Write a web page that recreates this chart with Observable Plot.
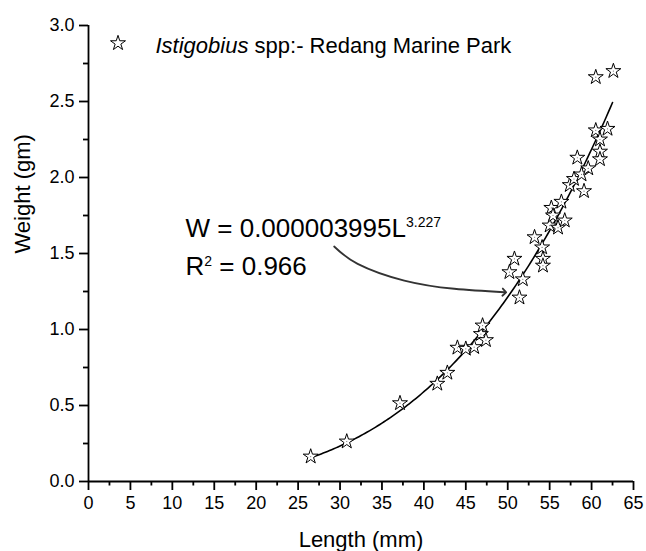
<!DOCTYPE html>
<html>
<head>
<meta charset="utf-8">
<script src="https://cdn.jsdelivr.net/npm/d3@7"></script>
<script src="https://cdn.jsdelivr.net/npm/@observablehq/plot@0.6"></script>
<style>
  html, body { margin: 0; padding: 0; background: white; }
</style>
</head>
<body>
<div id="chart"></div>
<script>
// Observed fish: length (mm) and weight (gm)
const lengths = [26.5, 30.8, 37.15, 41.6, 42.8, 44.0, 45.0, 46.0, 46.8, 47.0, 47.4,
  50.2, 50.8, 51.4, 51.8, 53.2, 54.1, 54.2, 54.2, 55.0, 55.2, 55.4, 56.0, 56.4, 56.8,
  57.4, 57.9, 58.3, 58.8, 59.1, 59.6, 60.5, 61.0, 61.0, 61.0, 61.9, 60.5, 62.6];
const weights = [0.164, 0.263, 0.515, 0.643, 0.715, 0.88, 0.873, 0.884, 0.97, 1.026, 0.93,
  1.377, 1.465, 1.21, 1.33, 1.607, 1.54, 1.465, 1.42, 1.684, 1.80, 1.75, 1.67, 1.84, 1.717,
  1.95, 1.99, 2.13, 2.02, 1.91, 2.06, 2.31, 2.25, 2.17, 2.12, 2.32, 2.66, 2.70];

// Fitted length-weight relation shown on the chart: W = a * L^b
const fitA = 0.000003995;
const fitB = 3.227;
const fitRange = [26.5, 62.5];

// Tick labels
const xTicks = [0, 5, 10, 15, 20, 25, 30, 35, 40, 45, 50, 55, 60, 65];
const xMinor = [2.5, 7.5, 12.5, 17.5, 22.5, 27.5, 32.5, 37.5, 42.5, 47.5, 52.5, 57.5, 62.5];
const yTicks = [0, 0.5, 1.0, 1.5, 2.0, 2.5, 3.0];
const yMinor = [0.25, 0.75, 1.25, 1.75, 2.25, 2.75];

// Annotation arrow path (data units)
const arrowX = [29.3, 32.1, 37.66, 43.63, 49.6];
const arrowY = [1.546, 1.432, 1.322, 1.268, 1.245];

const legendLabel = "Istigobius spp:- Redang Marine Park";
const eqLabel = "W = 0.000003995L";
const eqExp = "3.227";
const r2Label = "R = 0.966";

const fish = lengths.map((L, i) => ({L, W: weights[i]}));
const fit = d3.range(fitRange[0], fitRange[1] + 0.001, 0.25).map(L => ({L, W: fitA * Math.pow(L, fitB)}));
const arrow = arrowX.map((x, i) => ({x, y: arrowY[i]}));

const font = "'Liberation Sans', Arial, Helvetica, sans-serif";

const chart = Plot.plot({
  width: 646,
  height: 551,
  marginLeft: 88,
  marginRight: 13,
  marginTop: 25,
  marginBottom: 70,
  x: {domain: [0, 65]},
  y: {domain: [0, 3]},
  style: {fontFamily: font, fontSize: "18px", color: "black", background: "white", overflow: "visible"},
  marks: [
    Plot.axisX({ticks: xTicks, tickSize: 9, tickPadding: 6, fontSize: 18, strokeWidth: 1.8, label: null}),
    Plot.axisX({ticks: xMinor, tickSize: 4.5, text: null, strokeWidth: 1.8, label: null}),
    Plot.axisY({ticks: yTicks, tickSize: 9, tickPadding: 5, fontSize: 18, strokeWidth: 1.8, tickFormat: d3.format(".1f"), label: null}),
    Plot.axisY({ticks: yMinor, tickSize: 5, text: null, strokeWidth: 1.8, label: null}),
    Plot.ruleX([0], {strokeWidth: 1.8}),
    Plot.ruleY([0], {strokeWidth: 1.8}),
    Plot.line(fit, {x: "L", y: "W", stroke: "black", strokeWidth: 1.6}),
    Plot.line(arrow, {x: "x", y: "y", curve: "natural", stroke: "#333", strokeWidth: 1.8, markerEnd: "arrow"}),
    Plot.dot(fish, {x: "L", y: "W", symbol: "star", r: 4.7, fill: "white", stroke: "black", strokeWidth: 1}),
    Plot.dot(fish, {x: "L", y: "W", r: 0.6, fill: "#777", stroke: null}),
    // legend
    Plot.dot([legendLabel], {frameAnchor: "top-left", dx: 29.5, dy: 17.7, symbol: "star", r: 4.7, fill: "white", stroke: "black", strokeWidth: 1}),
    Plot.text([legendLabel], {frameAnchor: "top-left", dx: 67, dy: 27.5, text: d => d, textAnchor: "start", lineAnchor: "bottom", fontSize: 22}),
    // equation
    Plot.text([eqLabel], {frameAnchor: "top-left", dx: 97, dy: 211, text: d => d, textAnchor: "start", lineAnchor: "bottom", fontSize: 26}),
    Plot.text([r2Label], {frameAnchor: "top-left", dx: 97, dy: 249, text: d => d, textAnchor: "start", lineAnchor: "bottom", fontSize: 26}),
    // axis titles
    Plot.text(["Length (mm)"], {frameAnchor: "bottom", dy: 65, text: d => d, lineAnchor: "bottom", fontSize: 22}),
    Plot.text(["Weight (gm)"], {frameAnchor: "left", dx: -66, text: d => d, rotate: -90, lineAnchor: "middle", fontSize: 22})
  ]
});

// rich text: italics and superscripts
const NS = "http://www.w3.org/2000/svg";
function span(parent, txt, attrs) {
  const t = document.createElementNS(NS, "tspan");
  t.textContent = txt;
  for (const k in attrs) t.setAttribute(k, attrs[k]);
  parent.appendChild(t);
}
chart.querySelectorAll("text").forEach(el => {
  const s = el.textContent;
  if (s === legendLabel) {
    el.textContent = "";
    span(el, "Istigobius", {"font-style": "italic"});
    span(el, " spp:- Redang Marine Park", {});
  } else if (s === eqLabel) {
    el.textContent = "";
    span(el, eqLabel, {});
    span(el, eqExp, {"font-size": 14, dy: -10});
  } else if (s === r2Label) {
    el.textContent = "";
    span(el, "R", {});
    span(el, "2", {"font-size": 14, dy: -9});
    span(el, " = 0.966", {dy: 9});
  }
});

document.getElementById("chart").appendChild(chart);
</script>
</body>
</html>
